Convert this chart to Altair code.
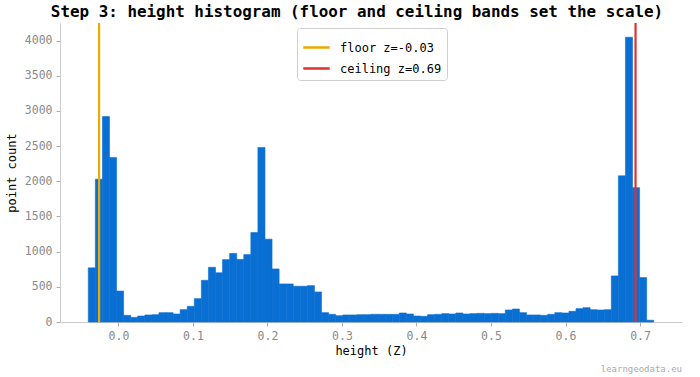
import altair as alt
import numpy as np
import pandas as pd

# ---- data ----
bin_lo = -0.0405
bin_hi = 0.7184
counts = [
    770, 2030, 2920, 2340, 440, 95, 66, 85, 100, 104,
    133, 133, 114, 176, 223, 332, 593, 778, 700, 887,
    975, 890, 958, 1272, 2482, 1177, 754, 541, 541, 508,
    508, 517, 427, 133, 109, 90, 100, 100, 104, 104,
    109, 109, 109, 109, 128, 114, 85, 81, 104, 109,
    119, 114, 128, 114, 119, 123, 119, 123, 119, 171,
    185, 133, 100, 100, 95, 109, 133, 128, 152, 190,
    204, 175, 171, 175, 655, 2078, 4048, 1910, 632, 25,
]
floor_z = -0.026
ceiling_z = 0.694
line_labels = ["floor z=-0.03", "ceiling z=0.69"]
line_colors = ["#ebaa00", "#e03131"]
x_ticks = [0.0, 0.1, 0.2, 0.3, 0.4, 0.5, 0.6, 0.7]
y_ticks = [0, 500, 1000, 1500, 2000, 2500, 3000, 3500, 4000]

edges = np.linspace(bin_lo, bin_hi, len(counts) + 1)
hist = pd.DataFrame({"x0": edges[:-1], "x1": edges[1:], "count": counts})
lines = pd.DataFrame({"z": [floor_z, ceiling_z], "label": line_labels})

FONT = "DejaVu Sans Mono"
BAR = "#0a6fd3"
span = bin_hi - bin_lo
xdom = [bin_lo - 0.05 * span, bin_hi + 0.05 * span]
ydom = [0, max(counts) * 1.05]

xscale = alt.Scale(domain=xdom, nice=False, zero=False)
yscale = alt.Scale(domain=ydom, nice=False)

bars = alt.Chart(hist).mark_rect(color=BAR, stroke=BAR, strokeWidth=0.6).encode(
    x=alt.X("x0:Q", scale=xscale,
            axis=alt.Axis(title="height (Z)", values=x_ticks, format=".1f")),
    x2="x1:Q",
    y=alt.Y("count:Q", scale=yscale,
            axis=alt.Axis(title="point count", values=y_ticks, format="d")),
    y2=alt.datum(0),
)

rules = alt.Chart(lines).mark_rule(strokeWidth=2.2).encode(
    x=alt.X("z:Q", scale=xscale),
    color=alt.Color("label:N",
                    scale=alt.Scale(domain=line_labels, range=line_colors),
                    legend=alt.Legend(title=None, orient="none",
                                      legendX=237, legendY=5)),
)

watermark = alt.Chart(pd.DataFrame({"t": ["learngeodata.eu"]})).mark_text(
    align="right", baseline="middle", font=FONT, fontSize=9, color="#aaaaaa"
).encode(text="t:N", x=alt.value(622), y=alt.value(346))

chart = (
    alt.layer(bars, rules, watermark)
    .properties(
        width=622,
        height=299,
        title=alt.TitleParams(
            "Step 3: height histogram (floor and ceiling bands set the scale)",
            font=FONT, fontSize=15.9, fontWeight="bold", color="black",
            anchor="middle", offset=2, dx=-14,
        ),
        autosize=alt.AutoSizeParams(type="none"),
        padding={"left": 60, "top": 23, "right": 18, "bottom": 55},
    )
    .configure_view(stroke=None)
    .configure_axis(
        grid=False,
        domainColor="#cccccc",
        tickColor="#aaaaaa",
        tickSize=4,
        labelFont=FONT,
        labelFontSize=11.5,
        labelColor="#8a8a8a",
        labelPadding=4,
        titleFont=FONT,
        titleFontSize=12,
        titleFontWeight="normal",
        titleColor="black",
    )
    .configure_axisX(titlePadding=4)
    .configure_axisY(titlePadding=6)
    .configure_legend(
        symbolType="stroke",
        symbolSize=700,
        symbolStrokeWidth=2.5,
        labelFont=FONT,
        labelFontSize=12,
        labelColor="black",
        strokeColor="#d0d0d0",
        fillColor="white",
        padding=5,
        cornerRadius=3,
        rowPadding=-9,
        labelOffset=9,
    )
)

chart.save("out.html", embed_options={"renderer": "svg", "actions": False})
